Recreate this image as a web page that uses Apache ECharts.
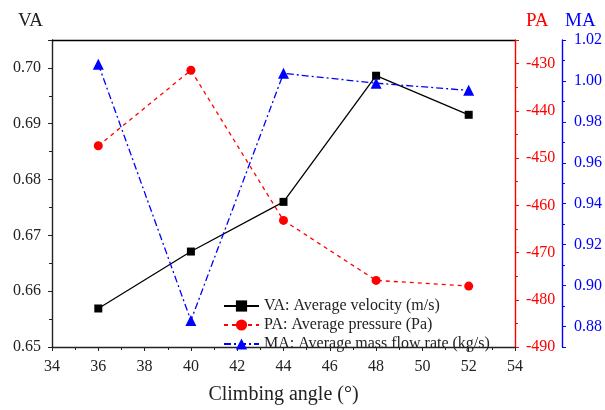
<!DOCTYPE html>
<html><head><meta charset="utf-8">
<script src="https://cdn.jsdelivr.net/npm/echarts@6/dist/echarts.min.js"></script>
<style>html,body{margin:0;padding:0;background:#fff}#c{width:605px;height:410px}</style>
</head><body><div id="c"></div>
<script>
var angles = [36, 40, 44, 48, 52];
var vaValues = [0.6569, 0.6671, 0.6760, 0.6986, 0.6916];
var paValues = [-447.4, -431.4, -463.2, -475.9, -477.1];
var maValues = [1.0082, 0.8829, 1.0037, 0.9989, 0.9954];
var seriesNames = ['VA: Average velocity (m/s)', 'PA: Average pressure (Pa)', 'MA: Average mass flow rate (kg/s)'];

var FONT = 'Liberation Serif';
function pairs(vals){ return angles.map(function(a,i){ return [a, vals[i]]; }); }

var chart = echarts.init(document.getElementById('c'));
chart.setOption({
  animation: false,
  textStyle: {fontFamily: FONT},
  grid: {left: 52, right: 86, top: 40, bottom: 58, containLabel: false},
  legend: {
    orient: 'vertical', left: 218, top: 293, itemGap: 3, itemWidth: 35, itemHeight: 14,
    textStyle: {fontFamily: FONT, fontSize: 16, color: '#222'},
    data: seriesNames
  },
  xAxis: [{
    type: 'value', min: 34, max: 54, interval: 2,
    name: 'Climbing angle (°)', nameLocation: 'middle', nameGap: 38,
    nameTextStyle: {fontFamily: FONT, fontSize: 20, color: '#222'},
    axisLine: {lineStyle: {color: '#222', width: 1.4}},
    axisTick: {length: 4, lineStyle: {color: '#222'}},
    minorTick: {show: true, splitNumber: 2, length: 3, lineStyle: {color: '#222'}},
    axisLabel: {fontFamily: FONT, fontSize: 16, color: '#222', margin: 12},
    splitLine: {show: false}
  }, {
    type: 'value', min: 34, max: 54, position: 'top',
    axisLine: {lineStyle: {color: '#000', width: 1.4}},
    axisTick: {show: false}, axisLabel: {show: false}, splitLine: {show: false}
  }],
  yAxis: [{
    type: 'value', min: 0.65, max: 0.705, interval: 0.01, position: 'left',
    name: 'VA', nameLocation: 'end', nameGap: 9,
    nameTextStyle: {fontFamily: FONT, fontSize: 19, color: '#222', align: 'right', padding: [0, 9, 0, 0]},
    axisLine: {show: true, lineStyle: {color: '#222', width: 1.4}},
    axisTick: {length: 4, lineStyle: {color: '#222'}},
    minorTick: {show: true, splitNumber: 2, length: 3, lineStyle: {color: '#222'}},
    axisLabel: {fontFamily: FONT, fontSize: 16, color: '#222', margin: 11, showMaxLabel: false,
      formatter: function(v){ return v.toFixed(2); }},
    splitLine: {show: false}
  }, {
    type: 'value', min: -490, max: -425, interval: 10, position: 'right',
    name: 'PA', nameLocation: 'end', nameGap: 9,
    nameTextStyle: {fontFamily: FONT, fontSize: 19, color: '#ff0000', align: 'left', padding: [0, 0, 0, 11]},
    axisLine: {show: true, lineStyle: {color: '#ff0000', width: 1.4}},
    axisTick: {length: 4, lineStyle: {color: '#ff0000'}},
    minorTick: {show: true, splitNumber: 2, length: 3, lineStyle: {color: '#ff0000'}},
    axisLabel: {fontFamily: FONT, fontSize: 16, color: '#ff0000', margin: 11, showMaxLabel: false},
    splitLine: {show: false}
  }, {
    type: 'value', min: 0.87, max: 1.02, splitNumber: 7, position: 'right', offset: 47,
    name: 'MA', nameLocation: 'end', nameGap: 9,
    nameTextStyle: {fontFamily: FONT, fontSize: 19, color: '#0000ff', align: 'left', padding: [0, 0, 0, 3]},
    axisLine: {show: true, lineStyle: {color: '#0000ff', width: 1.4}},
    axisTick: {length: 4, lineStyle: {color: '#0000ff'}},
    minorTick: {show: true, splitNumber: 2, length: 3, lineStyle: {color: '#0000ff'}},
    axisLabel: {fontFamily: FONT, fontSize: 16, color: '#0000ff', margin: 12, showMinLabel: false,
      formatter: function(v){ return v.toFixed(2); }},
    splitLine: {show: false}
  }],
  series: [{
    name: seriesNames[0], type: 'line', xAxisIndex: 0, yAxisIndex: 0, data: pairs(vaValues),
    symbol: 'rect', symbolSize: 8, showAllSymbol: true,
    lineStyle: {color: '#000', width: 1.3, type: 'solid'},
    itemStyle: {color: '#000'}
  }, {
    name: seriesNames[1], type: 'line', xAxisIndex: 0, yAxisIndex: 1, data: pairs(paValues),
    symbol: 'circle', symbolSize: 9,
    lineStyle: {color: '#ff0000', width: 1.3, type: [4, 4]},
    itemStyle: {color: '#ff0000'}
  }, {
    name: seriesNames[2], type: 'line', xAxisIndex: 0, yAxisIndex: 2, data: pairs(maValues),
    symbol: 'triangle', symbolSize: 11,
    lineStyle: {color: '#0000ff', width: 1.3, type: [7, 3, 2, 3]},
    itemStyle: {color: '#0000ff'}
  }]
});
</script></body></html>
